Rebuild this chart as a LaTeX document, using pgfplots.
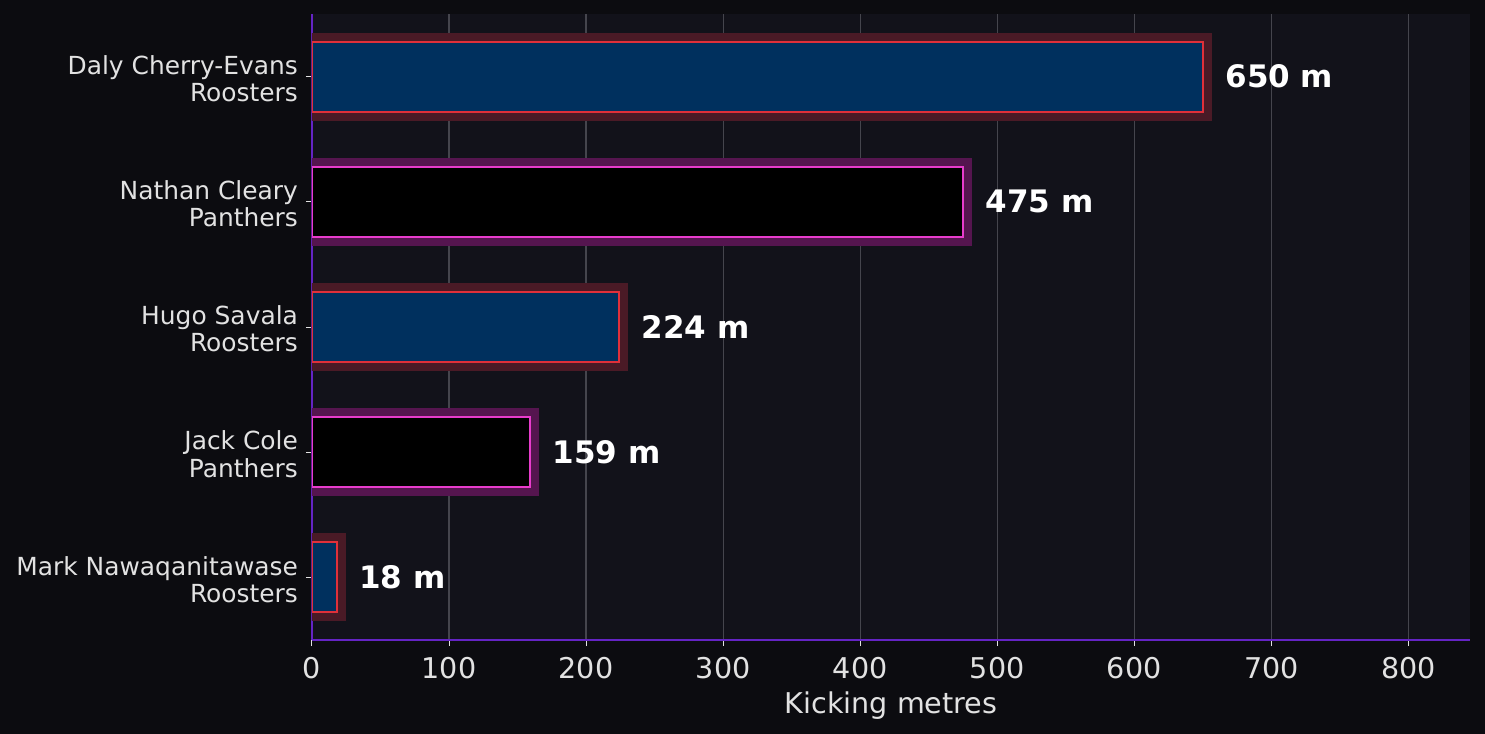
\documentclass[border=0pt]{standalone}
\usepackage{fontspec}
\setmainfont{DejaVu Sans}
\usepackage{pgfplots}
\pgfplotsset{compat=1.18}

\definecolor{figbg}{HTML}{0C0C10}
\definecolor{axbg}{HTML}{12121A}
\definecolor{spine}{HTML}{6424C4}
\definecolor{gridc}{HTML}{45454D}
\definecolor{txt}{HTML}{E2E2E2}
\definecolor{roofill}{HTML}{00305E}
\definecolor{rooedge}{HTML}{E0303A}
\definecolor{rooglow}{HTML}{4A1A26}
\definecolor{panfill}{HTML}{000000}
\definecolor{panedge}{HTML}{E83CCC}
\definecolor{panglow}{HTML}{55154F}

\begin{document}
\begin{tikzpicture}
\fill[figbg] (-156pt,-47pt) rectangle (586.5pt,320pt);
\begin{axis}[
    at={(0,0)}, anchor=south west,
    scale only axis,
    width=579pt, height=313pt,
    xbar, bar width=0.56,
    xmin=0, xmax=845,
    ymin=-0.5, ymax=4.5,
    y dir=reverse,
    ytick={0,1,2,3,4},
    yticklabels={{Daly Cherry-Evans\\Roosters},{Nathan Cleary\\Panthers},{Hugo Savala\\Roosters},{Jack Cole\\Panthers},{Mark Nawaqanitawase\\Roosters}},
    yticklabel style={align=right, font=\fontsize{12.45}{13.6}\selectfont, text=txt, xshift=-0.5pt, yshift=-1pt},
    xtick={0,100,...,800},
    xticklabel style={font=\fontsize{14.3}{16}\selectfont, text=txt, yshift=-2pt},
    /pgf/number format/assume math mode=true,
    xlabel={Kicking metres},
    xlabel style={font=\fontsize{14.3}{16}\selectfont, text=txt, yshift=0.5pt},
    axis background/.style={fill=axbg},
    axis x line*=bottom, axis y line*=left,
    axis line style={spine, line width=0.8pt, -},
    tick align=outside, major tick length=3pt,
    tick style={txt, line width=0.5pt},
    xmajorgrids, major grid style={gridc, line width=0.6pt},
    clip=true,
]
% glow layers
\addplot[bar shift=0pt, draw=rooglow, fill=rooglow, line width=9pt]
    coordinates {(650,0) (224,2) (18,4)};
\addplot[bar shift=0pt, draw=panglow, fill=panglow, line width=9pt]
    coordinates {(475,1) (159,3)};
% bars
\addplot[bar shift=0pt, draw=rooedge, fill=roofill, line width=1pt,
    nodes near coords={\pgfmathprintnumber{\pgfplotspointmeta}~m},
    point meta=x,
    every node near coord/.append style={anchor=west, xshift=7.5pt, text=white, font=\bfseries\fontsize{15.5}{17}\selectfont}]
    coordinates {(650,0) (224,2) (18,4)};
\addplot[bar shift=0pt, draw=panedge, fill=panfill, line width=1pt,
    nodes near coords={\pgfmathprintnumber{\pgfplotspointmeta}~m},
    point meta=x,
    every node near coord/.append style={anchor=west, xshift=7.5pt, text=white, font=\bfseries\fontsize{15.5}{17}\selectfont}]
    coordinates {(475,1) (159,3)};
\end{axis}
\end{tikzpicture}
\end{document}
